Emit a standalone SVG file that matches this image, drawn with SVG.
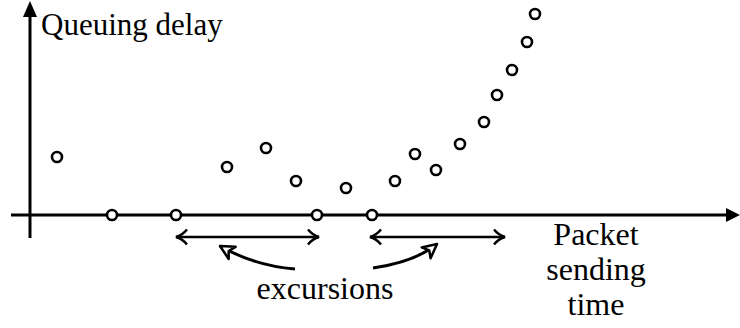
<svg xmlns="http://www.w3.org/2000/svg" width="740" height="328" viewBox="0 0 740 328">
<style>
text{font-family:'Liberation Serif','Times New Roman',Times,'DejaVu Serif',serif;font-size:32px;fill:#000}
.ax{stroke:#000;stroke-width:3;fill:none}
.pt{fill:#fff;stroke:#000;stroke-width:2.6}
.ln{stroke:#000;stroke-width:2.5;fill:none}
</style>
<defs>
<marker id="chev" viewBox="0 0 14 18" refX="13" refY="9" markerWidth="14" markerHeight="18" markerUnits="userSpaceOnUse" orient="auto-start-reverse">
<path d="M2,1.5 Q7,7.5 13,9 Q7,10.5 2,16.5" fill="none" stroke="#000" stroke-width="2.5"/>
</marker>
<marker id="tri" viewBox="0 0 18 18" refX="16" refY="9" markerWidth="18" markerHeight="18" markerUnits="userSpaceOnUse" orient="auto">
<path d="M16,9 L2,2 L6,9 L2,16 Z" fill="#fff" stroke="#000" stroke-width="2.5" stroke-linejoin="round"/>
</marker>
</defs>
<g id="connectors">
<line class="ax" x1="30" y1="238" x2="30" y2="14"/>
<path d="M30,1 L23,17 L37,17 Z" fill="#000"/>
<line class="ax" x1="11" y1="215" x2="728" y2="215"/>
<path d="M740,215 L726,208 L726,222 Z" fill="#000"/>
<line class="ln" x1="176" y1="237" x2="319" y2="237" marker-start="url(#chev)" marker-end="url(#chev)"/>
<line class="ln" x1="370" y1="237" x2="505" y2="237" marker-start="url(#chev)" marker-end="url(#chev)"/>
<path class="ln" style="stroke-width:3" d="M295,269 Q255,266 220,246" marker-end="url(#tri)"/>
<path class="ln" style="stroke-width:3" d="M373,268 Q415,262 437,244" marker-end="url(#tri)"/>
</g>
<g id="points">
<circle class="pt" cx="57" cy="157" r="5"/>
<circle class="pt" cx="112" cy="215" r="5"/>
<circle class="pt" cx="176" cy="215" r="5"/>
<circle class="pt" cx="227" cy="167" r="5"/>
<circle class="pt" cx="266" cy="148" r="5"/>
<circle class="pt" cx="296" cy="181" r="5"/>
<circle class="pt" cx="317" cy="215" r="5"/>
<circle class="pt" cx="346" cy="188" r="5"/>
<circle class="pt" cx="372" cy="215" r="5"/>
<circle class="pt" cx="395" cy="181" r="5"/>
<circle class="pt" cx="415" cy="154" r="5"/>
<circle class="pt" cx="436" cy="170" r="5"/>
<circle class="pt" cx="460" cy="144" r="5"/>
<circle class="pt" cx="484" cy="122" r="5"/>
<circle class="pt" cx="497" cy="95" r="5"/>
<circle class="pt" cx="512" cy="70" r="5"/>
<circle class="pt" cx="527" cy="42" r="5"/>
<circle class="pt" cx="535" cy="14" r="5"/>
</g>
<g id="y-label"><text x="41" y="35" style="font-size:31px">Queuing delay</text></g>
<g id="x-label"><text x="596" text-anchor="middle"><tspan x="596" y="245">Packet</tspan><tspan x="596" y="280">sending</tspan><tspan x="596" y="315">time</tspan></text></g>
<g id="excursions-label"><text x="325" y="299" text-anchor="middle">excursions</text></g>
</svg>
